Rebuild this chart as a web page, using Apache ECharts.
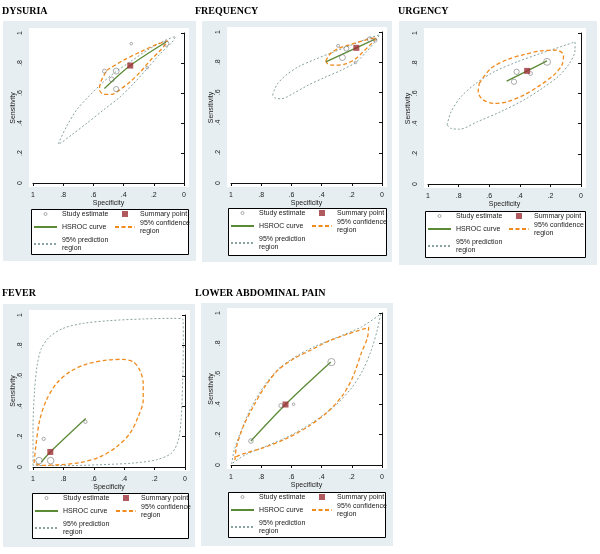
<!DOCTYPE html>
<html>
<head>
<meta charset="utf-8">
<script src="https://cdn.jsdelivr.net/npm/echarts@6/dist/echarts.min.js"></script>
<style>html,body{margin:0;padding:0;background:#fff}#c{width:600px;height:554px}</style>
</head>
<body>
<div id="c"></div>
<script>
// ---------- text ----------
const panelTitles = ['DYSURIA', 'FREQUENCY', 'URGENCY', 'FEVER', 'LOWER ABDOMINAL PAIN'];
const xAxisTitle = 'Specificity';
const yAxisTitle = 'Sensitivity';
const tickStep = 0.2;
const legendLeftItems = ['Study estimate', 'HSROC curve', '95% prediction region'];
const legendRightItems = ['Summary point', '95% confidence region'];

// ---------- data: [specificity, sensitivity] (study: + relative weight) ----------
const dysuriaStudies = [[0.349,0.929,0.8],[0.527,0.746,1.2],[0.449,0.746,1.8],[0.478,0.690,1.5],[0.449,0.626,1.6],[0.244,0.770,0.8],[0.118,0.929,1.6]];
const dysuriaSummary = [[0.356,0.783]];
const dysuriaHsroc = [[0.527,0.630],[0.356,0.783],[0.118,0.940]];
const dysuriaConf = [[0.511,0.752],[0.400,0.819],[0.289,0.874],[0.178,0.925],[0.107,0.947],[0.156,0.885],[0.222,0.819],[0.289,0.741],[0.356,0.675],[0.422,0.624],[0.478,0.591],[0.533,0.591],[0.560,0.624],[0.551,0.675]];
const dysuriaPred = [[0.833,0.261],[0.778,0.376],[0.711,0.487],[0.633,0.575],[0.556,0.653],[0.467,0.730],[0.356,0.808],[0.244,0.885],[0.133,0.947],[0.056,0.978],[0.078,0.940],[0.156,0.863],[0.244,0.763],[0.333,0.664],[0.422,0.575],[0.533,0.487],[0.644,0.398],[0.744,0.321],[0.811,0.270]];

const frequencyStudies = [[0.291,0.908,0.9],[0.236,0.890,1.5],[0.262,0.831,1.8],[0.176,0.798,0.8],[0.081,0.952,1.5],[0.044,0.945,1.0]];
const frequencySummary = [[0.170,0.895]];
const frequencyHsroc = [[0.372,0.802],[0.170,0.895],[0.048,0.952]];
const frequencyConf = [[0.372,0.807],[0.346,0.853],[0.291,0.890],[0.203,0.919],[0.115,0.945],[0.037,0.963],[0.070,0.923],[0.126,0.868],[0.181,0.818],[0.247,0.787],[0.313,0.780],[0.357,0.787]];
const frequencyPred = [[0.725,0.582],[0.698,0.648],[0.643,0.708],[0.555,0.769],[0.445,0.818],[0.335,0.862],[0.225,0.905],[0.115,0.949],[0.015,0.982],[0.048,0.934],[0.104,0.868],[0.170,0.802],[0.269,0.747],[0.379,0.699],[0.489,0.648],[0.588,0.593],[0.665,0.558],[0.709,0.563]];

const urgencyStudies = [[0.421,0.743,1.6],[0.438,0.677,1.6],[0.330,0.732,1.2],[0.222,0.809,2.1]];
const urgencySummary = [[0.352,0.749]];
const urgencyHsroc = [[0.486,0.681],[0.352,0.749],[0.222,0.815]];
const urgencyConf = [[0.665,0.666],[0.590,0.765],[0.482,0.824],[0.374,0.857],[0.266,0.881],[0.158,0.886],[0.114,0.853],[0.125,0.787],[0.179,0.721],[0.266,0.655],[0.374,0.589],[0.482,0.545],[0.568,0.534],[0.644,0.560],[0.672,0.611]];
const urgencyPred = [[0.875,0.391],[0.849,0.479],[0.784,0.578],[0.687,0.666],[0.568,0.743],[0.417,0.809],[0.266,0.864],[0.136,0.908],[0.039,0.941],[0.039,0.886],[0.076,0.798],[0.147,0.714],[0.244,0.640],[0.374,0.556],[0.525,0.479],[0.676,0.413],[0.795,0.363],[0.853,0.369]];

const feverStudies = [[0.960,0.042,2.0],[0.884,0.042,2.0],[0.930,0.185,1.0],[0.655,0.297,1.0]];
const feverSummary = [[0.886,0.099]];
const feverHsroc = [[0.945,0.033],[0.886,0.099],[0.653,0.319]];
const feverConf = [[0.993,0.026],[0.982,0.132],[0.956,0.308],[0.912,0.440],[0.846,0.549],[0.758,0.626],[0.648,0.677],[0.516,0.703],[0.407,0.708],[0.341,0.692],[0.297,0.637],[0.275,0.549],[0.275,0.440],[0.308,0.330],[0.363,0.220],[0.451,0.132],[0.560,0.066],[0.692,0.029],[0.824,0.015],[0.945,0.011]];
const feverPred = [[1.000,0.011],[1.000,0.242],[0.991,0.484],[0.974,0.659],[0.945,0.780],[0.890,0.857],[0.802,0.912],[0.670,0.945],[0.495,0.963],[0.275,0.974],[0.077,0.978],[0.015,0.975],[0.011,0.835],[0.015,0.571],[0.026,0.308],[0.044,0.176],[0.088,0.092],[0.187,0.048],[0.341,0.026],[0.560,0.015],[0.780,0.009]];

const abdominalStudies = [[0.868,0.158,1.4],[0.670,0.391,1.2],[0.586,0.400,0.8],[0.335,0.677,2.2]];
const abdominalSummary = [[0.639,0.398]];
const abdominalHsroc = [[0.868,0.158],[0.639,0.398],[0.339,0.677]];
const abdominalConf = [[0.974,0.033],[0.963,0.121],[0.919,0.253],[0.852,0.385],[0.775,0.516],[0.687,0.626],[0.577,0.703],[0.467,0.758],[0.357,0.813],[0.225,0.862],[0.088,0.905],[0.097,0.835],[0.137,0.736],[0.192,0.582],[0.258,0.462],[0.357,0.352],[0.489,0.253],[0.643,0.169],[0.797,0.110],[0.907,0.077],[0.963,0.055]];
const abdominalPred = [[0.996,0.007],[0.978,0.099],[0.930,0.231],[0.863,0.385],[0.775,0.527],[0.687,0.631],[0.577,0.710],[0.445,0.780],[0.291,0.842],[0.137,0.908],[0.009,0.993],[0.031,0.890],[0.070,0.758],[0.126,0.626],[0.203,0.505],[0.313,0.389],[0.467,0.275],[0.621,0.187],[0.775,0.121],[0.907,0.066]];

const panelData = [
  {studies: dysuriaStudies, summary: dysuriaSummary, hsroc: dysuriaHsroc, conf: dysuriaConf, pred: dysuriaPred},
  {studies: frequencyStudies, summary: frequencySummary, hsroc: frequencyHsroc, conf: frequencyConf, pred: frequencyPred},
  {studies: urgencyStudies, summary: urgencySummary, hsroc: urgencyHsroc, conf: urgencyConf, pred: urgencyPred},
  {studies: feverStudies, summary: feverSummary, hsroc: feverHsroc, conf: feverConf, pred: feverPred},
  {studies: abdominalStudies, summary: abdominalSummary, hsroc: abdominalHsroc, conf: abdominalConf, pred: abdominalPred}
];

// ---------- layout (pixels) ----------
const layouts = [
  {grid:[33,33,151,150], panel:[3,21,193,240], box:[31,209,157,45], title:[2,6]},
  {grid:[231,32,151,151], panel:[202,21,190,241], box:[228,208,158,47], title:[195,6]},
  {grid:[428,33,153,151], panel:[399,21,198,244], box:[425,211,160,46], title:[398,6]},
  {grid:[33,315,152,152], panel:[3,304,192,243], box:[32,493,156,45], title:[2,288]},
  {grid:[231,313,151,152], panel:[201,303,192,243], box:[228,492,157,45], title:[195,288]}
];

const C = {
  panelBg: '#e7eef1', axis: '#111', text: '#1a1a1a',
  study: '#7d7d7d', summary: '#9c2f37', hsroc: '#5b8a36', conf: '#f08a1c', pred: '#88a3a1'
};
const FONT = 'Liberation Sans, Arial, sans-serif';

const fmtTick = v => {
  const s = String(Math.round(v * 10) / 10);
  return s.replace(/^0\./, '.');
};
const closeLoop = arr => arr.concat([arr[0]]);
const legendFmt = n => n.replace(/ region$/, '\nregion');
const hideSym = {opacity: 0};

const grids = [], xAxes = [], yAxes = [], series = [], graphics = [], legends = [], titles = [];

layouts.forEach((L, i) => {
  const [gl, gt, gw, gh] = L.grid;
  grids.push({left: gl, top: gt, width: gw, height: gh, containLabel: false});
  const axisCommon = {
    gridIndex: i, type: 'value', min: 0, max: 1, interval: tickStep,
    offset: 4,
    axisLine: {show: true, lineStyle: {color: C.axis, width: 1}},
    axisTick: {show: true, length: 3, lineStyle: {color: C.axis, width: 1}},
    splitLine: {show: false},
    nameLocation: 'middle',
    nameTextStyle: {fontSize: 7, color: C.text, fontFamily: FONT},
    nameGap: 11.5
  };
  xAxes.push(Object.assign({}, axisCommon, {
    inverse: true, position: 'bottom', name: xAxisTitle,
    axisLabel: {fontSize: 7, color: C.text, fontFamily: FONT, margin: 4.5, formatter: fmtTick}
  }));
  yAxes.push(Object.assign({}, axisCommon, {
    position: 'left', name: yAxisTitle,
    axisLabel: {fontSize: 7, color: C.text, fontFamily: FONT, margin: 5, rotate: 90, formatter: fmtTick}
  }));

  const P = L.panel;
  graphics.push({type: 'rect', z: -10, shape: {x: P[0], y: P[1], width: P[2], height: P[3]}, style: {fill: C.panelBg}});
  graphics.push({type: 'rect', z: -9, shape: {x: gl - 4, y: gt - 5, width: gw + 9, height: gh + 9}, style: {fill: '#fff'}});
  const B = L.box;
  graphics.push({type: 'rect', z: -8, shape: {x: B[0] + 0.5, y: B[1] + 0.5, width: B[2], height: B[3]}, style: {fill: '#fff', stroke: '#000', lineWidth: 1}});

  titles.push({text: panelTitles[i], left: L.title[0], top: L.title[1], padding: 0,
    textStyle: {fontFamily: 'Liberation Serif, Times New Roman, serif', fontWeight: 'bold', fontSize: 10, color: '#000'}});

  const ts = {fontSize: 7, lineHeight: 8, color: C.text, fontFamily: FONT};
  legends.push({orient: 'vertical', left: B[0] + 2, top: B[1] + 1, padding: 0, itemWidth: 23, itemHeight: 3, itemGap: 5,
    selectedMode: false, formatter: legendFmt, textStyle: ts,
    data: [
      {name: legendLeftItems[0], itemStyle: {borderWidth: 0.8}},
      {name: legendLeftItems[1], itemStyle: hideSym},
      {name: legendLeftItems[2], itemStyle: hideSym}
    ]});
  legends.push({orient: 'vertical', left: B[0] + 83, top: B[1] + 1, padding: 0, itemWidth: 20, itemHeight: 6, itemGap: 1,
    selectedMode: false, formatter: legendFmt, textStyle: ts, symbolKeepAspect: true,
    data: [
      {name: legendRightItems[0], icon: 'path://M0,0H10V10H0Z'},
      {name: legendRightItems[1], itemStyle: hideSym}
    ]});

  const D = panelData[i];
  const ax = {xAxisIndex: i, yAxisIndex: i};
  series.push(Object.assign({name: '95% prediction region', type: 'line', data: closeLoop(D.pred), smooth: 0.3,
    symbol: 'none', silent: true, lineStyle: {color: C.pred, width: 1, type: [2, 2]}, itemStyle: {color: C.pred}, z: 2}, ax));
  series.push(Object.assign({name: '95% confidence region', type: 'line', data: closeLoop(D.conf), smooth: 0.3,
    symbol: 'none', silent: true, lineStyle: {color: C.conf, width: 1.3, type: [4, 2.5]}, itemStyle: {color: C.conf}, z: 3}, ax));
  series.push(Object.assign({name: 'HSROC curve', type: 'line', data: D.hsroc, smooth: 0.3,
    symbol: 'none', silent: true, lineStyle: {color: C.hsroc, width: 1.3}, itemStyle: {color: C.hsroc}, z: 4}, ax));
  series.push(Object.assign({name: 'Study estimate', type: 'scatter', data: D.studies, symbol: 'circle',
    symbolSize: v => 3.3 * v[2], silent: true,
    itemStyle: {color: 'rgba(255,255,255,0)', borderColor: C.study, borderWidth: 0.8}, z: 5}, ax));
  series.push(Object.assign({name: 'Summary point', type: 'scatter', data: D.summary, symbol: 'rect', symbolSize: 6,
    silent: true, itemStyle: {color: C.summary}, z: 6}, ax));
});

const chart = echarts.init(document.getElementById('c'), null, {renderer: 'canvas', width: 600, height: 554});
chart.setOption({
  backgroundColor: '#fff',
  animation: false,
  title: titles,
  grid: grids,
  xAxis: xAxes,
  yAxis: yAxes,
  legend: legends,
  graphic: {elements: graphics},
  series: series
});
</script>
</body>
</html>
